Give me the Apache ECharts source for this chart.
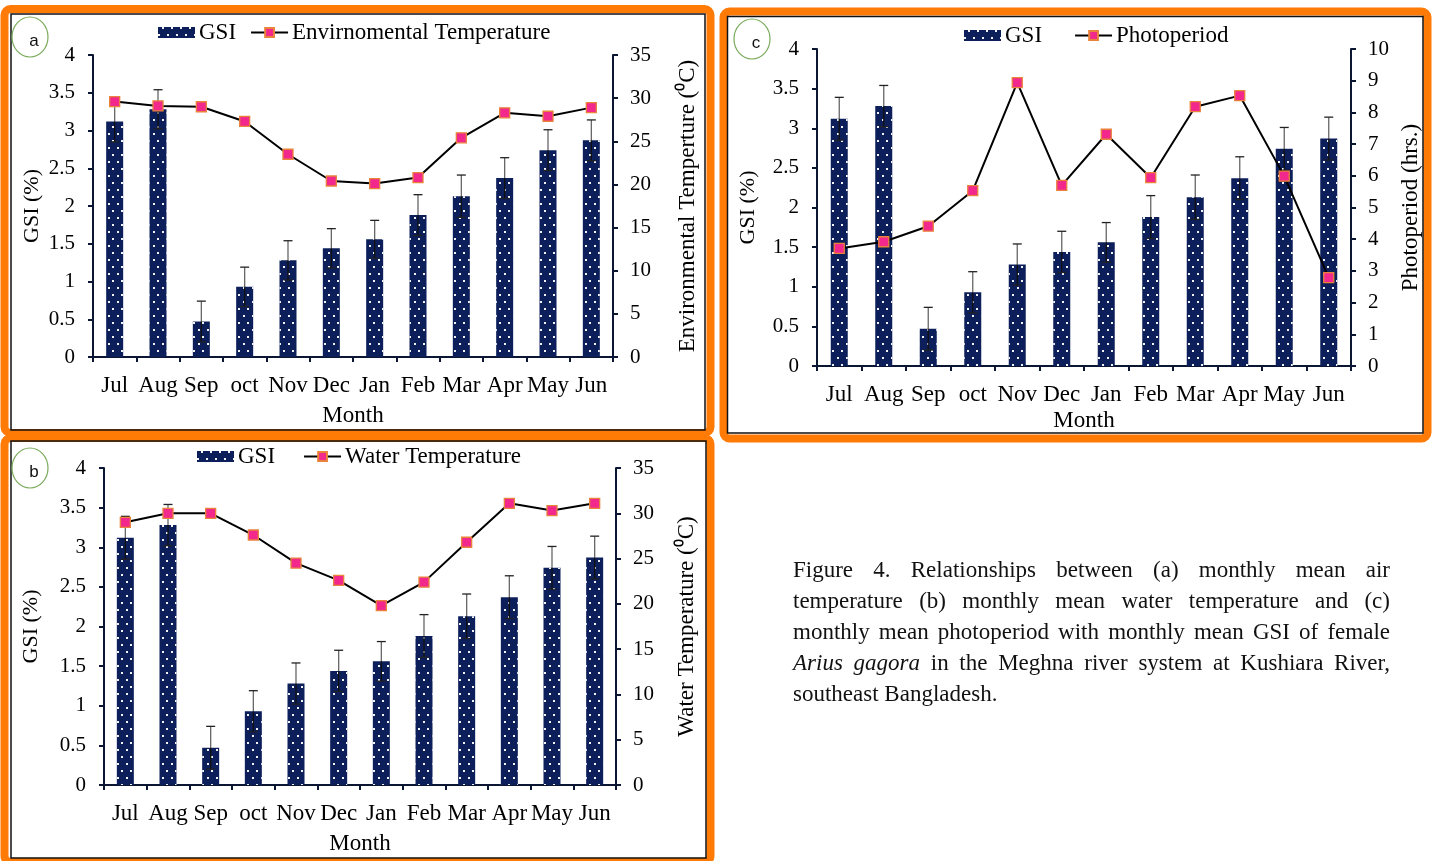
<!DOCTYPE html>
<html>
<head>
<meta charset="utf-8">
<script src="https://cdn.jsdelivr.net/npm/echarts@6/dist/echarts.min.js"></script>
<style>
  html, body { margin: 0; padding: 0; background: #fff; }
  #wrap { position: relative; width: 1435px; height: 861px; overflow: hidden; }
  #chart { position: absolute; left: 0; top: 0; width: 1435px; height: 861px; }
  #caption {
    position: absolute; left: 793px; top: 554px; width: 597px;
    font-family: "Liberation Serif", "Times New Roman", serif;
    font-size: 23px; line-height: 31px; color: #111;
  }
  #caption .j { text-align: justify; text-align-last: justify; }
</style>
</head>
<body>
<div id="wrap">
  <div id="chart"></div>
  <div id="caption">
    <div class="j">Figure 4. Relationships between (a) monthly mean air</div>
    <div class="j">temperature (b) monthly mean water temperature and (c)</div>
    <div class="j">monthly mean photoperiod with monthly mean GSI of female</div>
    <div class="j"><i>Arius gagora</i> in the Meghna river system at Kushiara River,</div>
    <div>southeast Bangladesh.</div>
  </div>
</div>
<script>
// Monthly means, July to June
const months = ['Jul', 'Aug', 'Sep', 'oct', 'Nov', 'Dec', 'Jan', 'Feb', 'Mar', 'Apr', 'May', 'Jun'];
const gsiMean = [3.12, 3.28, 0.47, 0.93, 1.28, 1.44, 1.56, 1.88, 2.13, 2.37, 2.74, 2.87];
const gsiSD = [0.27, 0.26, 0.27, 0.26, 0.26, 0.26, 0.25, 0.27, 0.28, 0.27, 0.27, 0.27];
const airTemp = [29.6, 29.1, 29.0, 27.3, 23.5, 20.4, 20.1, 20.8, 25.4, 28.3, 27.9, 28.9];
const waterTemp = [29.0, 30.0, 30.0, 27.6, 24.5, 22.6, 19.8, 22.4, 26.8, 31.1, 30.3, 31.1];
const photoperiod = [3.71, 3.92, 4.41, 5.53, 8.94, 5.70, 7.31, 5.94, 8.18, 8.53, 5.99, 2.79];

const SERIF = '"Liberation Serif", "Times New Roman", serif';
const AXIS_COLOR = '#0b1633';
const BAR_COLOR = '#0c1f5a';

const errData = months.map((m, i) => [i, gsiMean[i] - gsiSD[i], gsiMean[i] + gsiSD[i], gsiMean[i]]);

function renderErr(params, api) {
  const x = api.value(0);
  const top = api.coord([x, api.value(2)]);
  const bot = api.coord([x, api.value(1)]);
  const mid = api.coord([x, api.value(3)]);
  const cap = 4.5;
  return {
    type: 'group',
    children: [
      { type: 'line', shape: { x1: top[0], y1: top[1], x2: mid[0], y2: mid[1] }, style: { stroke: '#666', lineWidth: 1.3 } },
      { type: 'line', shape: { x1: mid[0], y1: mid[1], x2: bot[0], y2: bot[1] }, style: { stroke: '#111', lineWidth: 1.3 } },
      { type: 'line', shape: { x1: top[0] - cap, y1: top[1], x2: top[0] + cap, y2: top[1] }, style: { stroke: '#222', lineWidth: 1.3 } },
      { type: 'line', shape: { x1: bot[0] - cap, y1: bot[1], x2: bot[0] + cap, y2: bot[1] }, style: { stroke: '#222', lineWidth: 1.3 } }
    ]
  };
}

const axisLine = { show: true, lineStyle: { color: AXIS_COLOR, width: 2 } };
const axisTick = { show: true, length: 5, lineStyle: { color: AXIS_COLOR, width: 2 } };

// Panels: grid box, right-axis setup and legend placement
const panels = [
  { grid: { left: 93, top: 55, width: 520, height: 302 }, lineName: 'Envirnomental Temperature', lineData: airTemp,
    rMax: 35, rInt: 5, rName: 'Environmental Temperture (\u2070C)', lGap: 50, rGap: 63, xGap: 47,
    legend: { left: 158, top: 21, itemGap: 14 } },
  { grid: { left: 104, top: 468, width: 512, height: 317 }, lineName: 'Water Temperature', lineData: waterTemp,
    rMax: 35, rInt: 5, rName: 'Water Temperature (\u2070C)', lGap: 62, rGap: 59, xGap: 47,
    legend: { left: 197, top: 445, itemGap: 28 } },
  { grid: { left: 817, top: 49, width: 534, height: 317 }, lineName: 'Photoperiod', lineData: photoperiod,
    rMax: 10, rInt: 1, rName: 'Photoperiod (hrs.)', lGap: 58, rGap: 48, xGap: 43,
    legend: { left: 964, top: 24, itemGap: 32 } }
];

const grid = [], xAxis = [], yAxis = [], series = [], legend = [];
panels.forEach((p, i) => {
  grid.push(Object.assign({ containLabel: false }, p.grid));
  xAxis.push({
    type: 'category', gridIndex: i, data: months, boundaryGap: true,
    axisLine, axisTick,
    axisLabel: { interval: 0, color: '#000', fontFamily: SERIF, fontSize: 23, margin: 17 },
    name: 'Month', nameLocation: 'middle', nameGap: p.xGap,
    nameTextStyle: { color: '#000', fontFamily: SERIF, fontSize: 23 }
  });
  yAxis.push({
    type: 'value', gridIndex: i, position: 'left', min: 0, max: 4, interval: 0.5,
    axisLine, axisTick, splitLine: { show: false },
    axisLabel: { color: '#000', fontFamily: SERIF, fontSize: 21, margin: 18 },
    name: 'GSI (%)', nameLocation: 'middle', nameGap: p.lGap, nameRotate: 90,
    nameTextStyle: { color: '#000', fontFamily: SERIF, fontSize: 22 }
  });
  yAxis.push({
    type: 'value', gridIndex: i, position: 'right', min: 0, max: p.rMax, interval: p.rInt,
    axisLine, axisTick, splitLine: { show: false },
    axisLabel: { color: '#000', fontFamily: SERIF, fontSize: 21, margin: 17 },
    name: p.rName, nameLocation: 'middle', nameGap: p.rGap, nameRotate: 90,
    nameTextStyle: { color: '#000', fontFamily: SERIF, fontSize: 23 }
  });
  series.push({
    type: 'bar', name: 'GSI', xAxisIndex: i, yAxisIndex: 2 * i, data: gsiMean, barWidth: 17, z: 2,
    itemStyle: {
      color: BAR_COLOR,
      decal: {
        symbol: 'rect', symbolSize: 1, color: 'rgba(255,255,255,0.95)', backgroundColor: null,
        dashArrayX: [[1.5, 6.5], [0, 4, 1.5, 2.5]], dashArrayY: [1.5, 5]
      }
    },
    emphasis: { disabled: true }
  });
  series.push({
    type: 'custom', name: 'GSI SD', xAxisIndex: i, yAxisIndex: 2 * i, data: errData, z: 3,
    renderItem: renderErr, encode: { x: 0, y: [1, 2] }, silent: true
  });
  series.push({
    type: 'line', name: p.lineName, xAxisIndex: i, yAxisIndex: 2 * i + 1, data: p.lineData, z: 5,
    symbol: 'rect', symbolSize: 10,
    lineStyle: { color: '#000', width: 2 },
    itemStyle: { color: '#f2288c', borderColor: '#e9823a', borderWidth: 1.3 },
    emphasis: { disabled: true }
  });
  legend.push({
    left: p.legend.left, top: p.legend.top, itemGap: p.legend.itemGap,
    itemWidth: 37, itemHeight: 11, padding: 0, selectedMode: false,
    textStyle: { color: '#000', fontFamily: SERIF, fontSize: 23, padding: [0, 0, 0, -1] },
    data: [{ name: 'GSI', icon: 'rect' }, { name: p.lineName }]
  });
});

// Panel frames and letter badges
const ORANGE = '#ff7b06';
function frame(x, y, w, h) {
  return { type: 'rect', silent: true, shape: { x, y, width: w, height: h, r: 6 }, style: { fill: 'none', stroke: ORANGE, lineWidth: 8 }, z: 10 };
}
function inner(x, y, w, h) {
  return { type: 'rect', silent: true, shape: { x, y, width: w, height: h }, style: { fill: 'none', stroke: '#111', lineWidth: 1.5 }, z: 11 };
}
function badge(cx, cy, letter) {
  return [
    { type: 'ellipse', silent: true, shape: { cx, cy, rx: 18, ry: 20 }, style: { fill: 'none', stroke: '#7aab5c', lineWidth: 1.2 }, z: 12 },
    { type: 'text', silent: true, x: cx + 4, y: cy + 4, style: { text: letter, fill: '#111', font: '17px "Liberation Sans", Arial, sans-serif', align: 'center', verticalAlign: 'middle' }, z: 12 }
  ];
}
const graphic = [
  frame(4.5, 9, 706, 424), inner(11, 14, 694, 416),
  frame(4.5, 438, 706, 424), inner(11, 441, 695, 417),
  frame(723.5, 11.5, 704, 427), inner(727.5, 16.5, 695.5, 416.5),
  ...badge(30, 37, 'a'), ...badge(30, 468, 'b'), ...badge(752, 39, 'c')
];

const chart = echarts.init(document.getElementById('chart'), null, { renderer: 'canvas' });
chart.setOption({
  backgroundColor: '#fff',
  animation: false,
  grid, xAxis, yAxis, series, legend, graphic
});
</script>
</body>
</html>
